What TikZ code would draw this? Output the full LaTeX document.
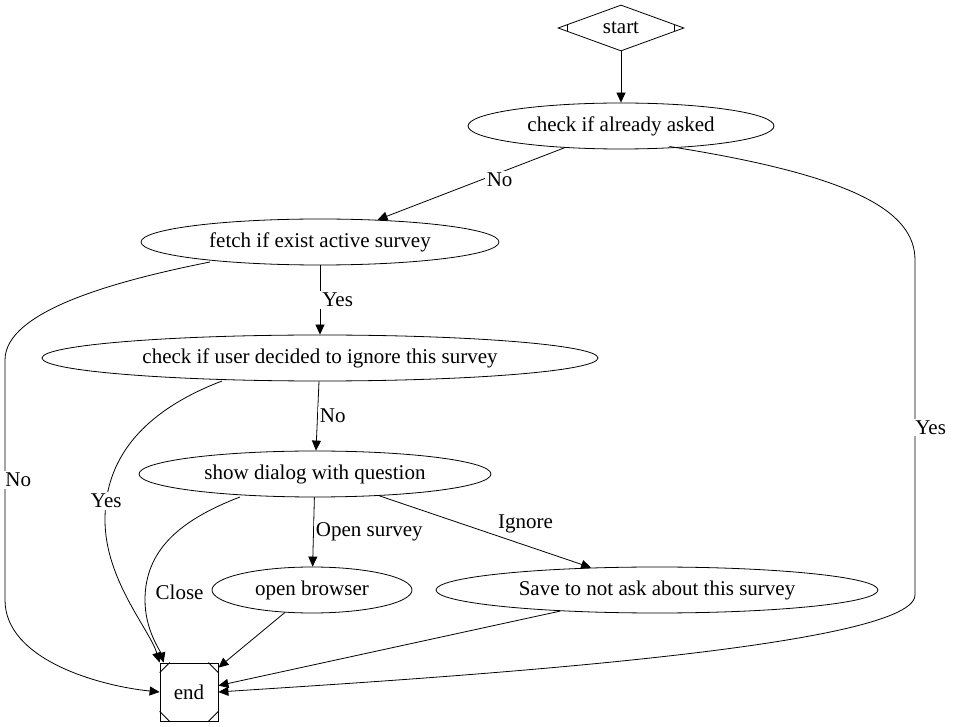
\documentclass[tikz,border=0pt]{standalone}
\usepackage{fontspec}
\setmainfont{Liberation Serif}
\usetikzlibrary{arrows.meta, shapes.geometric}

\begin{document}
\begin{tikzpicture}[
    x=0.5pt, y=-0.5pt,
    font=\fontsize{10.5}{12}\selectfont,
    state/.style = {
        draw,
        ellipse,
        inner sep=0pt,
        minimum height=23pt
    },
    myarrow/.style={
        -{Triangle[length=5pt,width=4.5pt]}
    },
    lbl/.style={
        fill=white, inner sep=1pt
    }
]
  \useasboundingbox (0,0) rectangle (955,727);

  \node[draw, diamond, aspect=2.74, inner sep=0pt, minimum width=63pt, minimum height=23pt] (start) at (621,28) {start};
  \draw ([xshift=5pt]start.west) ++(0,-1.7pt) -- ++(0,3.4pt);
  \draw ([xshift=-5pt]start.east) ++(0,-1.7pt) -- ++(0,3.4pt);

  \node[state, minimum width=153pt] (asked) at (621,126) {check if already asked};
  \node[state, minimum width=179pt] (fetch) at (320,242) {fetch if exist active survey};
  \node[state, minimum width=278pt] (ignore) at (320,358) {check if user decided to ignore this survey};
  \node[state, minimum width=176pt] (dialog) at (315,474) {show dialog with question};
  \node[state, minimum width=100pt] (browser) at (312,590) {open browser};
  \node[state, minimum width=221pt] (save) at (657,590) {Save to not ask about this survey};

  \node[draw, minimum size=29pt, inner sep=0pt] (end) at (189,692) {end};
  \draw ([xshift=5pt]end.north west) -- ([yshift=-5pt]end.north west);
  \draw ([xshift=-5pt]end.north east) -- ([yshift=-5pt]end.north east);
  \draw ([xshift=5pt]end.south west) -- ([yshift=5pt]end.south west);
  \draw ([xshift=-5pt]end.south east) -- ([yshift=5pt]end.south east);

  \draw[myarrow] (start) -- (asked);
  \draw[myarrow] (asked) -- node[lbl, pos=0.45, right=2pt] {No} (fetch);
  \draw[myarrow] (asked.south east) ++(-30pt,-2pt) coordinate (a1)
    (a1) .. controls (850,175) and (915,210) .. (915,260) -- node[lbl, right=-1pt] {Yes} (915,595)
    .. controls (915,650) and (400,680) .. (end.east);
  \draw[myarrow] (fetch) -- node[lbl, right=0pt] {Yes} (ignore);
  \draw[myarrow] (210,262) .. controls (120,280) and (5,310) .. (5,360) -- node[lbl, right=-1pt] {No} (5,600)
    .. controls (5,660) and (100,686) .. (end.west);
  \draw[myarrow] (ignore) -- node[lbl, right=0pt] {No} (dialog);
  \draw[myarrow] (222,381) .. controls (120,420) and (105,480) .. node[lbl, pos=0.85] {Yes} (105,520)
    .. controls (105,580) and (150,630) .. (end.north west);
  \draw[myarrow] (dialog) -- node[lbl, right=0pt] {Open survey} (browser);
  \draw[myarrow] (dialog) -- node[lbl, pos=0.55, above right=0pt] {Ignore} (save);
  \draw[myarrow] (240,497) .. controls (180,520) and (145,550) .. node[lbl, pos=0.95, right=4pt] {Close} (145,600)
    .. controls (145,630) and (160,650) .. ([xshift=2pt]end.north west);
  \draw[myarrow] (browser) -- (end);
  \draw[myarrow] (save) -- (end);
\end{tikzpicture}
\end{document}
